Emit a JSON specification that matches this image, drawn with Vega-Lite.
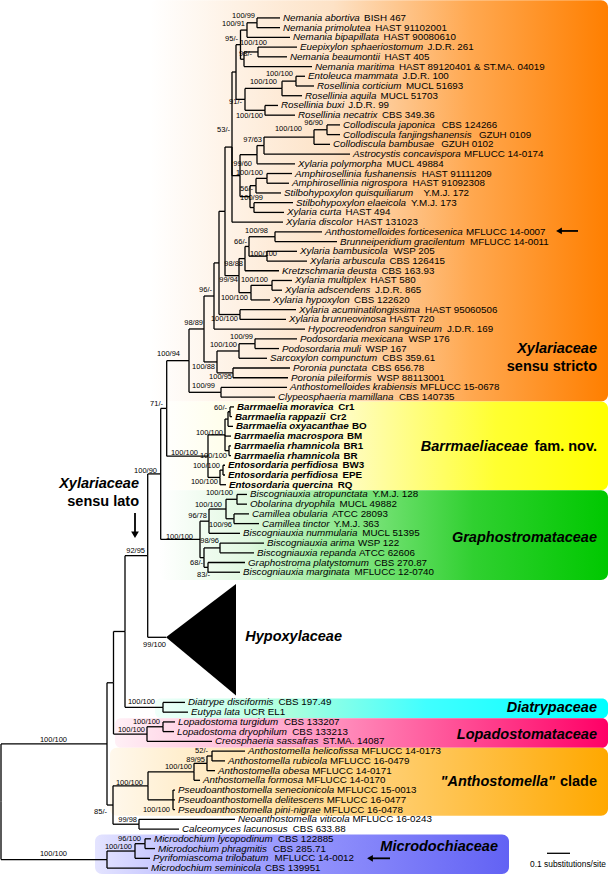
{
"$schema": "https://vega.github.io/schema/vega-lite/v6.json",
"width": 610, "height": 875, "padding": 0,
"autosize": {"type": "fit", "contains": "padding"},
"background": "white",
"config": {"view": {"stroke": null}, "font": "Liberation Sans"},
"datasets": {
"tree": [
{"id":"l1","p":"A1","x":280,"y":6,"n":"Nemania abortiva","s":"BISH 467","sx":364.1},
{"id":"l2","p":"A1","x":280,"y":15.86,"n":"Nemania primolutea","s":"HAST 91102001","sx":375.3},
{"id":"l3","p":"A2","x":290,"y":25.72,"n":"Nemania bipapillata","s":"HAST 90080610","sx":383.6},
{"id":"l4","p":"A3","x":297,"y":35.58,"n":"Euepixylon sphaeriostomum","s":"J.D.R. 261","sx":427.4},
{"id":"l5","p":"A3","x":287,"y":45.44,"n":"Nemania beaumontii","s":"HAST 405","sx":384.5},
{"id":"l6","p":"A4","x":312,"y":55.3,"n":"Nemania maritima","s":"HAST 89120401 & ST.MA. 04019","sx":398.9},
{"id":"l7","p":"R1","x":305,"y":65.16,"n":"Entoleuca mammata","s":"J.D.R. 100","sx":402.5},
{"id":"l8","p":"R1","x":314,"y":75.02,"n":"Rosellinia corticium","s":"MUCL 51693","sx":405.9},
{"id":"l9","p":"R2","x":302,"y":84.88,"n":"Rosellinia aquila","s":"MUCL 51703","sx":380.6},
{"id":"l10","p":"R3","x":278,"y":94.74,"n":"Rosellinia buxi","s":"J.D.R. 99","sx":348.2},
{"id":"l11","p":"R3","x":295,"y":104.6,"n":"Rosellinia necatrix","s":"CBS 349.36","sx":381.9},
{"id":"l12","p":"C1","x":340,"y":114.46,"n":"Collodiscula japonica","s":"CBS 124266","sx":441.7},
{"id":"l13","p":"C1","x":340,"y":124.32,"n":"Collodiscula fanjingshanensis","s":"GZUH 0109","sx":478.9},
{"id":"l14","p":"C2","x":330,"y":134.18,"n":"Collodiscula bambusae","s":"GZUH 0102","sx":441.2},
{"id":"l15","p":"C3","x":350,"y":144.04,"n":"Astrocystis concavispora","s":"MFLUCC 14-0174","sx":464},
{"id":"l16","p":"C4","x":295,"y":153.9,"n":"Xylaria polymorpha","s":"MUCL 49884","sx":386.4},
{"id":"l17","p":"AM1","x":292,"y":163.76,"n":"Amphirosellinia fushanensis","s":"HAST 91111209","sx":421.7},
{"id":"l18","p":"AM1","x":289,"y":173.62,"n":"Amphirosellinia nigrospora","s":"HAST 91092308","sx":412.6},
{"id":"l19","p":"AM2","x":281,"y":183.48,"n":"Stilbohypoxylon quisquiliarum","s":"Y.M.J. 172","sx":423.5},
{"id":"l20","p":"ST","x":293,"y":193.34,"n":"Stilbohypoxylon elaeicola","s":"Y.M.J. 173","sx":411.1},
{"id":"l21","p":"ST","x":284,"y":203.2,"n":"Xylaria curta","s":"HAST 494","sx":345.4},
{"id":"l22","p":"N232","x":283,"y":213.06,"n":"Xylaria discolor","s":"HAST 131023","sx":356.6},
{"id":"l23","p":"AB","x":322,"y":222.92,"n":"Anthostomelloides forticesenica","s":"MFLUCC 14-0007","sx":466},
{"id":"l24","p":"AB","x":337,"y":232.78,"n":"Brunneiperidium gracilentum","s":"MFLUCC 14-0011","sx":470},
{"id":"l25","p":"XB","x":297,"y":242.64,"n":"Xylaria bambusicola","s":"WSP 205","sx":393.5},
{"id":"l26","p":"XB","x":307,"y":252.5,"n":"Xylaria arbuscula","s":"CBS 126415","sx":389.5},
{"id":"l27","p":"K","x":279,"y":262.36,"n":"Kretzschmaria deusta","s":"CBS 163.93","sx":381.5},
{"id":"l28","p":"XM","x":292,"y":272.22,"n":"Xylaria multiplex","s":"HAST 580","sx":370.6},
{"id":"l29","p":"XM","x":282,"y":282.08,"n":"Xylaria adscendens","s":"J.D.R. 865","sx":375},
{"id":"l30","p":"XH","x":270,"y":291.94,"n":"Xylaria hypoxylon","s":"CBS 122620","sx":354.1},
{"id":"l31","p":"XA","x":296,"y":301.8,"n":"Xylaria acuminatilongissima","s":"HAST 95060506","sx":425.1},
{"id":"l32","p":"XA","x":286,"y":311.66,"n":"Xylaria brunneovinosa","s":"HAST 720","sx":389.5},
{"id":"l33","p":"N96","x":305,"y":321.52,"n":"Hypocreodendron sanguineum","s":"J.D.R. 169","sx":446.9},
{"id":"l34","p":"PO","x":297,"y":331.38,"n":"Podosordaria mexicana","s":"WSP 176","sx":408.5},
{"id":"l35","p":"PO","x":279,"y":341.24,"n":"Podosordaria muli","s":"WSP 167","sx":365.4},
{"id":"l36","p":"PS","x":267,"y":351.1,"n":"Sarcoxylon compunctum","s":"CBS 359.61","sx":382.3},
{"id":"l37","p":"PP","x":290,"y":360.96,"n":"Poronia punctata","s":"CBS 656.78","sx":371.4},
{"id":"l38","p":"PP","x":288,"y":370.82,"n":"Poronia pileiformis","s":"WSP 88113001","sx":377},
{"id":"l39","p":"AK","x":287,"y":380.68,"n":"Anthostomelloides krabiensis","s":"MFLUCC 15-0678","sx":420},
{"id":"l40","p":"AK","x":275,"y":390.54,"n":"Clypeosphaeria mamillana","s":"CBS 140735","sx":399},
{"id":"l41","p":"B1","x":234,"y":400.4,"n":"Barrmaelia moravica","s":"Cr1","sx":338.2},
{"id":"l42","p":"B1","x":232,"y":410.26,"n":"Barrmaelia rappazii","s":"Cr2","sx":330},
{"id":"l43","p":"B2","x":233,"y":420.12,"n":"Barrmaelia oxyacanthae","s":"BO","sx":352},
{"id":"l44","p":"B4","x":231,"y":429.98,"n":"Barrmaelia macrospora","s":"BM","sx":347},
{"id":"l45","p":"BR","x":231,"y":439.84,"n":"Barrmaelia rhamnicola","s":"BR1","sx":343.5},
{"id":"l46","p":"BR","x":231,"y":449.7,"n":"Barrmaelia rhamnicola","s":"BR","sx":343.5},
{"id":"l47","p":"E1","x":225,"y":459.56,"n":"Entosordaria perfidiosa","s":"BW3","sx":342.5},
{"id":"l48","p":"E1","x":225,"y":469.42,"n":"Entosordaria perfidiosa","s":"EPE","sx":342.5},
{"id":"l49","p":"E2","x":226,"y":479.28,"n":"Entosordaria quercina","s":"RQ","sx":337.8},
{"id":"l50","p":"G1","x":247,"y":489.14,"n":"Biscogniauxia atropunctata","s":"Y.M.J. 128","sx":372.6},
{"id":"l51","p":"G1","x":247,"y":499,"n":"Obolarina dryophila","s":"MUCL 49882","sx":339.5},
{"id":"l52","p":"G2","x":249,"y":508.86,"n":"Camillea obularia","s":"ATCC 28093","sx":332},
{"id":"l53","p":"G2","x":259,"y":518.72,"n":"Camillea tinctor","s":"Y.M.J. 363","sx":333.7},
{"id":"l54","p":"G4","x":240,"y":528.58,"n":"Biscogniauxia nummularia","s":"MUCL 51395","sx":362.3},
{"id":"l55","p":"G5","x":264,"y":538.44,"n":"Biscogniauxia arima","s":"WSP 122","sx":358},
{"id":"l56","p":"G5","x":254,"y":548.3,"n":"Biscogniauxia repanda","s":"ATCC 62606","sx":359},
{"id":"l57","p":"G6","x":245,"y":558.16,"n":"Graphostroma platystomum","s":"CBS 270.87","sx":374.2},
{"id":"l58","p":"G6","x":240,"y":568.02,"n":"Biscogniauxia marginata","s":"MFLUCC 12-0740","sx":354.5},
{"id":"l59","p":"D","x":185,"y":700,"n":"Diatrype disciformis","s":"CBS 197.49","sx":278.5},
{"id":"l60","p":"D","x":188,"y":709.9,"n":"Eutypa lata","s":"UCR EL1","sx":243.8},
{"id":"l61","p":"L1n","x":175,"y":719.8,"n":"Lopadostoma turgidum","s":"CBS 133207","sx":284},
{"id":"l62","p":"L1n","x":174,"y":729.6,"n":"Lopadostoma dryophilum","s":"CBS 133213","sx":292.3},
{"id":"l63","p":"L2n","x":212,"y":739.5,"n":"Creosphaeria sassafras","s":"ST.MA. 14087","sx":322.8},
{"id":"l64","p":"AN1","x":245,"y":749.4,"n":"Anthostomella helicofissa","s":"MFLUCC 14-0173","sx":361.5},
{"id":"l65","p":"AN1","x":225,"y":759.3,"n":"Anthostomella rubicola","s":"MFLUCC 16-0479","sx":330},
{"id":"l66","p":"AN2","x":215,"y":769.2,"n":"Anthostomella obesa","s":"MFLUCC 14-0171","sx":312.2},
{"id":"l67","p":"AN3","x":200,"y":779,"n":"Anthostomella formosa","s":"MFLUCC 14-0170","sx":306},
{"id":"l68","p":"PA","x":175,"y":788.9,"n":"Pseudoanthostomella senecionicola","s":"MFLUCC 15-0013","sx":337},
{"id":"l69","p":"PA","x":175,"y":798.8,"n":"Pseudoanthostomella delitescens","s":"MFLUCC 16-0477","sx":326.7},
{"id":"l70","p":"PA","x":175,"y":808.7,"n":"Pseudoanthostomella pini-nigrae","s":"MFLUCC 16-0478","sx":323.5},
{"id":"l71","p":"NC","x":235,"y":818.6,"n":"Neoanthostomella viticola","s":"MFLUCC 16-0243","sx":352.4},
{"id":"l72","p":"NC","x":179,"y":828.4,"n":"Calceomyces lacunosus","s":"CBS 633.88","sx":292.8},
{"id":"l73","p":"M1","x":151,"y":838.3,"n":"Microdochium lycopodinum","s":"CBS 122885","sx":278},
{"id":"l74","p":"M1","x":155,"y":848.2,"n":"Microdochium phragmitis","s":"CBS 285.71","sx":273},
{"id":"l75","p":"M2","x":150,"y":858.1,"n":"Pyrifomiascoma trilobatum","s":"MFLUCC 14-0012","sx":274.5},
{"id":"l76","p":"M3","x":148,"y":868,"n":"Microdochium seminicola","s":"CBS 139951","sx":265},
{"id":"A1","p":"A2","x":257,"y":10.93},
{"id":"A2","p":"A5","x":247,"y":18.33},
{"id":"A3","p":"A4","x":258,"y":40.51},
{"id":"A4","p":"A5","x":244,"y":47.9},
{"id":"A5","p":"A6","x":240.5,"y":33.1},
{"id":"R1","p":"R2","x":296,"y":70.09},
{"id":"R2","p":"R4","x":282,"y":77.49},
{"id":"R3","p":"R4","x":265,"y":99.67},
{"id":"R4","p":"A6","x":245,"y":88.58},
{"id":"A6","p":"N232","x":236,"y":60.84},
{"id":"C1","p":"C2","x":327,"y":119.39},
{"id":"C2","p":"C3","x":314,"y":126.79},
{"id":"C3","p":"C4","x":264,"y":135.42},
{"id":"C4","p":"P","x":257,"y":144.66},
{"id":"AM1","p":"AM2","x":267,"y":168.69},
{"id":"AM2","p":"Q","x":256,"y":176.09},
{"id":"ST","p":"Q","x":254,"y":198.27},
{"id":"Q","p":"P","x":250,"y":187.18},
{"id":"P","p":"N232","x":240,"y":165.92},
{"id":"N232","p":"N225","x":232,"y":136.95},
{"id":"AB","p":"AB2","x":275,"y":227.85},
{"id":"XB","p":"AB2","x":267,"y":247.57},
{"id":"AB2","p":"K","x":249,"y":237.71},
{"id":"K","p":"K2","x":245,"y":250.04},
{"id":"XM","p":"XH","x":272,"y":277.15},
{"id":"XH","p":"K2","x":251,"y":284.55},
{"id":"K2","p":"N225","x":239,"y":267.3},
{"id":"N225","p":"N219","x":225,"y":202.1},
{"id":"XA","p":"N219","x":240,"y":306.73},
{"id":"N219","p":"N96","x":219,"y":254.4},
{"id":"N96","p":"N204","x":214,"y":287.96},
{"id":"PO","p":"PS","x":255,"y":336.31},
{"id":"PS","p":"PSP","x":239,"y":343.7},
{"id":"PP","p":"PSP","x":233,"y":365.89},
{"id":"PSP","p":"N204","x":217,"y":354.8},
{"id":"N204","p":"N189","x":204,"y":321.38},
{"id":"AK","p":"N189","x":221,"y":385.61},
{"id":"N189","p":"N167","x":189,"y":353.5},
{"id":"B1","p":"B2","x":230,"y":405.33},
{"id":"B2","p":"B4","x":228,"y":412.73},
{"id":"BR","p":"B4","x":229,"y":444.77},
{"id":"B4","p":"B5","x":225,"y":428.75},
{"id":"E1","p":"E2","x":223,"y":464.49},
{"id":"E2","p":"B5","x":220,"y":471.89},
{"id":"B5","p":"N167","x":208,"y":450.32},
{"id":"N167","p":"N160","x":166.7,"y":401.91},
{"id":"G1","p":"G3","x":237,"y":494.07},
{"id":"G2","p":"G3","x":234,"y":513.79},
{"id":"G3","p":"G4","x":226,"y":503.93},
{"id":"G4","p":"G8","x":209,"y":516.26},
{"id":"G5","p":"G7","x":220,"y":543.37},
{"id":"G6","p":"G7","x":208,"y":563.09},
{"id":"G7","p":"G8","x":204,"y":553.23},
{"id":"G8","p":"N160","x":200,"y":534.75},
{"id":"N160","p":"N147","x":160.7,"y":468.33},
{"id":"HYP","p":"N147","x":166,"y":634},
{"id":"N147","p":"N125","x":147.7,"y":551.2},
{"id":"D","p":"N125","x":163,"y":704.95},
{"id":"N125","p":"N113","x":125,"y":628.1},
{"id":"L1n","p":"L2n","x":163,"y":724.7},
{"id":"L2n","p":"N113","x":147,"y":732.1},
{"id":"N113","p":"N107","x":113.5,"y":680.1},
{"id":"AN1","p":"AN2","x":212,"y":754.35},
{"id":"AN2","p":"AN3","x":207,"y":761.8},
{"id":"AN3","p":"AP","x":194,"y":770.4},
{"id":"PA","p":"AP","x":173,"y":798.8},
{"id":"AP","p":"AN4","x":148,"y":784.6},
{"id":"NC","p":"AN4","x":139,"y":823.5},
{"id":"AN4","p":"N107","x":113,"y":804.05},
{"id":"N107","p":"Root","x":107,"y":742.1},
{"id":"M1","p":"M2","x":145,"y":843.25},
{"id":"M2","p":"M3","x":135,"y":850.7},
{"id":"M3","p":"Root","x":107,"y":859.35},
{"id":"Root","x":1,"y":800.7}
],
"sup": [
{"t":"100/99","x":255,"y":4},{"t":"100/91","x":245,"y":12},{"t":"95/-","x":238,"y":27},
{"t":"100/100","x":267,"y":31},{"t":"98/-","x":252,"y":43},{"t":"100/100","x":293,"y":63},
{"t":"100/100","x":277,"y":71},{"t":"91/-","x":242,"y":91},{"t":"100/100","x":263,"y":105},
{"t":"53/-","x":230,"y":120},{"t":"96/90","x":323,"y":113},{"t":"100/100","x":302,"y":119},
{"t":"97/63","x":262,"y":130},{"t":"99/60","x":252,"y":154},{"t":"100/100","x":263,"y":163},
{"t":"56/-","x":253,"y":179},{"t":"100/99","x":263,"y":189},{"t":"100/98","x":268,"y":222},
{"t":"66/-","x":247,"y":233},{"t":"100/100","x":277,"y":245},{"t":"98/88","x":243,"y":255},
{"t":"99/94","x":238,"y":272},{"t":"100/100","x":268,"y":272},{"t":"100/100","x":248,"y":290},
{"t":"96/-","x":212,"y":282},{"t":"100/100","x":238,"y":311},{"t":"98/89","x":203,"y":315},
{"t":"100/99","x":253,"y":330},{"t":"100/100","x":237,"y":338},{"t":"100/94","x":180,"y":347},
{"t":"100/88","x":215,"y":360},{"t":"100/95","x":232,"y":370},{"t":"100/99","x":215,"y":379},
{"t":"71/-","x":163,"y":397},{"t":"60/-","x":227,"y":402},{"t":"100/100","x":223,"y":427},
{"t":"100/100","x":198,"y":447},{"t":"100/100","x":227,"y":450},{"t":"100/100","x":220,"y":460},
{"t":"100/100","x":218,"y":477},{"t":"100/90","x":157,"y":465},{"t":"100/100","x":233,"y":488},
{"t":"100/100","x":222,"y":500},{"t":"96/78","x":207,"y":511},{"t":"100/96","x":232,"y":520},
{"t":"100/100","x":193,"y":532},{"t":"98/96","x":219,"y":536},{"t":"92/95","x":145,"y":546},
{"t":"68/-","x":203,"y":559},{"t":"83/-","x":210,"y":571},{"t":"99/100","x":166,"y":642},
{"t":"100/100","x":155,"y":700},{"t":"100/100","x":160,"y":720},{"t":"100/100","x":145,"y":728},
{"t":"100/100","x":67,"y":738},{"t":"52/-","x":208,"y":749},{"t":"89/95","x":205,"y":758},
{"t":"100/100","x":192,"y":766},{"t":"100/100","x":143,"y":782},{"t":"100/100","x":170,"y":809},
{"t":"85/-","x":107,"y":811},{"t":"99/98","x":137,"y":819},{"t":"96/100","x":141,"y":838},
{"t":"100/100","x":132,"y":847},{"t":"100/100","x":67,"y":854}
],
"box": [
{"c":"Xylariaceae","x":150,"x2":608,"y":-12,"y2":395},
{"c":"Barrmaeliaceae","x":160,"x2":608,"y":395,"y2":485},
{"c":"Graphostromataceae","x":160,"x2":608,"y":485,"y2":576},
{"c":"Diatrypaceae","x":155,"x2":608,"y":696,"y2":716},
{"c":"Lopadostomataceae","x":115,"x2":608,"y":716,"y2":746},
{"c":"Anthostomella","x":110,"x2":608,"y":746,"y2":815},
{"c":"Microdochiaceae","x":95,"x2":509,"y":834,"y2":874}
],
"cl": [
{"t":"Xylariaceae","x":597,"y":342,"k":"taxon"},
{"t":"sensu stricto","x":597,"y":360,"k":"note"},
{"t":"Barrmaeliaceae","x":528,"y":441,"k":"taxon"},
{"t":"fam. nov.","x":597,"y":441,"k":"note"},
{"t":"Graphostromataceae","x":597,"y":533,"k":"taxon"},
{"t":"Hypoxylaceae","x":342,"y":634,"k":"taxon"},
{"t":"Diatrypaceae","x":597,"y":706,"k":"taxon"},
{"t":"Lopadostomataceae","x":597,"y":733,"k":"taxon"},
{"t":"\"Anthostomella\"","x":555,"y":781,"k":"taxon"},
{"t":"clade","x":597,"y":781,"k":"note"},
{"t":"Microdochiaceae","x":498,"y":847,"k":"taxon"},
{"t":"Xylariaceae","x":139,"y":479,"k":"taxon"},
{"t":"sensu lato","x":139,"y":497,"k":"note"}
],
"hyp": [{"x":166,"y":634,"y2":634},{"x":236,"y":580,"y2":693}],
"arr": [
{"x":559,"x2":578,"y":222,"y2":222,"d":"left"},
{"x":370,"x2":390,"y":858.1,"y2":858.1,"d":"left"},
{"x":135,"x2":135,"y":508,"y2":530,"d":"down"}
],
"sb": [{"x":547,"x2":570,"y":853,"t":"0.1 substitutions/site","tx":568,"ty":864}]
},
"layer": [
{"data":{"name":"box"},"transform":[{"filter":"datum.c=='Xylariaceae'"}],
 "mark":{"type":"rect","cornerRadius":7,"fill":{"gradient":"linear","x1":0,"y1":0,"x2":1,"y2":0,"stops":[{"offset":0,"color":"#ffffff"},{"offset":0.4,"color":"#fde2c6"},{"offset":0.7,"color":"#ffa850"},{"offset":1,"color":"#ff7f00"}]}},
 "encoding":{"x":{"field":"x","type":"quantitative","scale":{"domain":[0,610],"nice":false,"zero":false},"axis":null},"x2":{"field":"x2"},
  "y":{"field":"y","type":"quantitative","scale":{"domain":[0,875],"nice":false,"zero":false,"reverse":true},"axis":null},"y2":{"field":"y2"}}},
{"data":{"name":"box"},"transform":[{"filter":"datum.c=='Barrmaeliaceae'"}],
 "mark":{"type":"rect","cornerRadius":7,"fill":{"gradient":"linear","x1":0,"y1":0,"x2":1,"y2":0,"stops":[{"offset":0,"color":"#ffffff"},{"offset":0.4,"color":"#fffcc8"},{"offset":0.75,"color":"#ffff30"},{"offset":1,"color":"#ffff00"}]}},
 "encoding":{"x":{"field":"x","type":"quantitative"},"x2":{"field":"x2"},"y":{"field":"y","type":"quantitative"},"y2":{"field":"y2"}}},
{"data":{"name":"box"},"transform":[{"filter":"datum.c=='Graphostromataceae'"}],
 "mark":{"type":"rect","cornerRadius":7,"fill":{"gradient":"linear","x1":0,"y1":0,"x2":1,"y2":0,"stops":[{"offset":0,"color":"#ffffff"},{"offset":0.2,"color":"#e0f8e0"},{"offset":0.4,"color":"#8ee88e"},{"offset":0.7,"color":"#30d030"},{"offset":1,"color":"#00c800"}]}},
 "encoding":{"x":{"field":"x","type":"quantitative"},"x2":{"field":"x2"},"y":{"field":"y","type":"quantitative"},"y2":{"field":"y2"}}},
{"data":{"name":"box"},"transform":[{"filter":"datum.c=='Diatrypaceae'"}],
 "mark":{"type":"rect","cornerRadius":6,"fill":{"gradient":"linear","x1":0,"y1":0,"x2":1,"y2":0,"stops":[{"offset":0,"color":"#f0fffa"},{"offset":0.3,"color":"#aaffdd"},{"offset":0.6,"color":"#40ffff"},{"offset":1,"color":"#00ffff"}]}},
 "encoding":{"x":{"field":"x","type":"quantitative"},"x2":{"field":"x2"},"y":{"field":"y","type":"quantitative"},"y2":{"field":"y2"}}},
{"data":{"name":"box"},"transform":[{"filter":"datum.c=='Lopadostomataceae'"}],
 "mark":{"type":"rect","cornerRadius":6,"fill":{"gradient":"linear","x1":0,"y1":0,"x2":1,"y2":0,"stops":[{"offset":0,"color":"#fff0f6"},{"offset":0.35,"color":"#ffa8cc"},{"offset":1,"color":"#ff0066"}]}},
 "encoding":{"x":{"field":"x","type":"quantitative"},"x2":{"field":"x2"},"y":{"field":"y","type":"quantitative"},"y2":{"field":"y2"}}},
{"data":{"name":"box"},"transform":[{"filter":"datum.c=='Anthostomella'"}],
 "mark":{"type":"rect","cornerRadius":7,"fill":{"gradient":"linear","x1":0,"y1":0,"x2":1,"y2":0,"stops":[{"offset":0,"color":"#fff8ec"},{"offset":0.4,"color":"#ffdc98"},{"offset":1,"color":"#ffa800"}]}},
 "encoding":{"x":{"field":"x","type":"quantitative"},"x2":{"field":"x2"},"y":{"field":"y","type":"quantitative"},"y2":{"field":"y2"}}},
{"data":{"name":"box"},"transform":[{"filter":"datum.c=='Microdochiaceae'"}],
 "mark":{"type":"rect","cornerRadius":7,"fill":{"gradient":"linear","x1":0,"y1":0,"x2":1,"y2":0,"stops":[{"offset":0,"color":"#e4e4ff"},{"offset":0.35,"color":"#a4a4ff"},{"offset":1,"color":"#6262f4"}]}},
 "encoding":{"x":{"field":"x","type":"quantitative"},"x2":{"field":"x2"},"y":{"field":"y","type":"quantitative"},"y2":{"field":"y2"}}},
{"data":{"name":"hyp"},"mark":{"type":"area","color":"black"},
 "encoding":{"x":{"field":"x","type":"quantitative"},"y":{"field":"y","type":"quantitative"},"y2":{"field":"y2"}}},
{"data":{"name":"tree"},
 "transform":[{"lookup":"p","from":{"data":{"name":"tree"},"key":"id","fields":["x","y"]},"as":["px","py"]},{"filter":"isValid(datum.px)"}],
 "mark":{"type":"rule","color":"black","strokeWidth":1.3},
 "encoding":{"x":{"field":"px","type":"quantitative"},"x2":{"field":"x"},"y":{"field":"y","type":"quantitative"}}},
{"data":{"name":"tree"},
 "transform":[{"lookup":"p","from":{"data":{"name":"tree"},"key":"id","fields":["x","y"]},"as":["px","py"]},{"filter":"isValid(datum.px)"}],
 "mark":{"type":"rule","color":"black","strokeWidth":1.3},
 "encoding":{"x":{"field":"px","type":"quantitative"},"y":{"field":"py","type":"quantitative"},"y2":{"field":"y"}}},
{"data":{"name":"tree"},
 "transform":[{"filter":"isValid(datum.n) && !test(regexp('^(Barrmaelia|Entosordaria)'), datum.n)"}],
 "mark":{"type":"text","align":"left","baseline":"middle","dx":3,"fontSize":9.8,"fontStyle":"italic","color":"black"},
 "encoding":{"x":{"field":"x","type":"quantitative"},"y":{"field":"y","type":"quantitative"},"text":{"field":"n"}}},
{"data":{"name":"tree"},
 "transform":[{"filter":"isValid(datum.n) && !test(regexp('^(Barrmaelia|Entosordaria)'), datum.n)"}],
 "mark":{"type":"text","align":"left","baseline":"middle","fontSize":9.8,"color":"black"},
 "encoding":{"x":{"field":"sx","type":"quantitative"},"y":{"field":"y","type":"quantitative"},"text":{"field":"s"}}},
{"data":{"name":"tree"},
 "transform":[{"filter":"isValid(datum.n) && test(regexp('^(Barrmaelia|Entosordaria)'), datum.n)"}],
 "mark":{"type":"text","align":"left","baseline":"middle","dx":3,"fontSize":9.8,"fontStyle":"italic","fontWeight":"bold","color":"black"},
 "encoding":{"x":{"field":"x","type":"quantitative"},"y":{"field":"y","type":"quantitative"},"text":{"field":"n"}}},
{"data":{"name":"tree"},
 "transform":[{"filter":"isValid(datum.n) && test(regexp('^(Barrmaelia|Entosordaria)'), datum.n)"}],
 "mark":{"type":"text","align":"left","baseline":"middle","fontSize":9.8,"fontWeight":"bold","color":"black"},
 "encoding":{"x":{"field":"sx","type":"quantitative"},"y":{"field":"y","type":"quantitative"},"text":{"field":"s"}}},
{"data":{"name":"sup"},
 "mark":{"type":"text","align":"right","baseline":"middle","fontSize":7.5,"color":"black"},
 "encoding":{"x":{"field":"x","type":"quantitative"},"y":{"field":"y","type":"quantitative"},"text":{"field":"t"}}},
{"data":{"name":"cl"},
 "transform":[{"filter":"datum.k=='taxon'"}],
 "mark":{"type":"text","align":"right","baseline":"middle","fontSize":14.5,"fontWeight":"bold","fontStyle":"italic","color":"black"},
 "encoding":{"x":{"field":"x","type":"quantitative"},"y":{"field":"y","type":"quantitative"},"text":{"field":"t"}}},
{"data":{"name":"cl"},
 "transform":[{"filter":"datum.k=='note'"}],
 "mark":{"type":"text","align":"right","baseline":"middle","fontSize":14.5,"fontWeight":"bold","color":"black"},
 "encoding":{"x":{"field":"x","type":"quantitative"},"y":{"field":"y","type":"quantitative"},"text":{"field":"t"}}},
{"data":{"name":"arr"},
 "mark":{"type":"rule","color":"black","strokeWidth":1.8},
 "encoding":{"x":{"field":"x","type":"quantitative"},"x2":{"field":"x2"},"y":{"field":"y","type":"quantitative"},"y2":{"field":"y2"}}},
{"data":{"name":"arr"},"transform":[{"filter":"datum.d=='left'"}],
 "mark":{"type":"point","shape":"triangle-left","filled":true,"color":"black","size":45,"opacity":1},
 "encoding":{"x":{"field":"x","type":"quantitative"},"y":{"field":"y","type":"quantitative"}}},
{"data":{"name":"arr"},"transform":[{"filter":"datum.d=='down'"}],
 "mark":{"type":"point","shape":"triangle-down","filled":true,"color":"black","size":60,"opacity":1},
 "encoding":{"x":{"field":"x","type":"quantitative"},"y":{"field":"y2","type":"quantitative"}}},
{"data":{"name":"sb"},
 "mark":{"type":"rule","color":"black","strokeWidth":1.3},
 "encoding":{"x":{"field":"x","type":"quantitative"},"x2":{"field":"x2"},"y":{"field":"y","type":"quantitative"}}},
{"data":{"name":"sb"},
 "mark":{"type":"text","align":"center","baseline":"middle","fontSize":8.4,"color":"black"},
 "encoding":{"x":{"field":"tx","type":"quantitative"},"y":{"field":"ty","type":"quantitative"},"text":{"field":"t"}}}
]
}
